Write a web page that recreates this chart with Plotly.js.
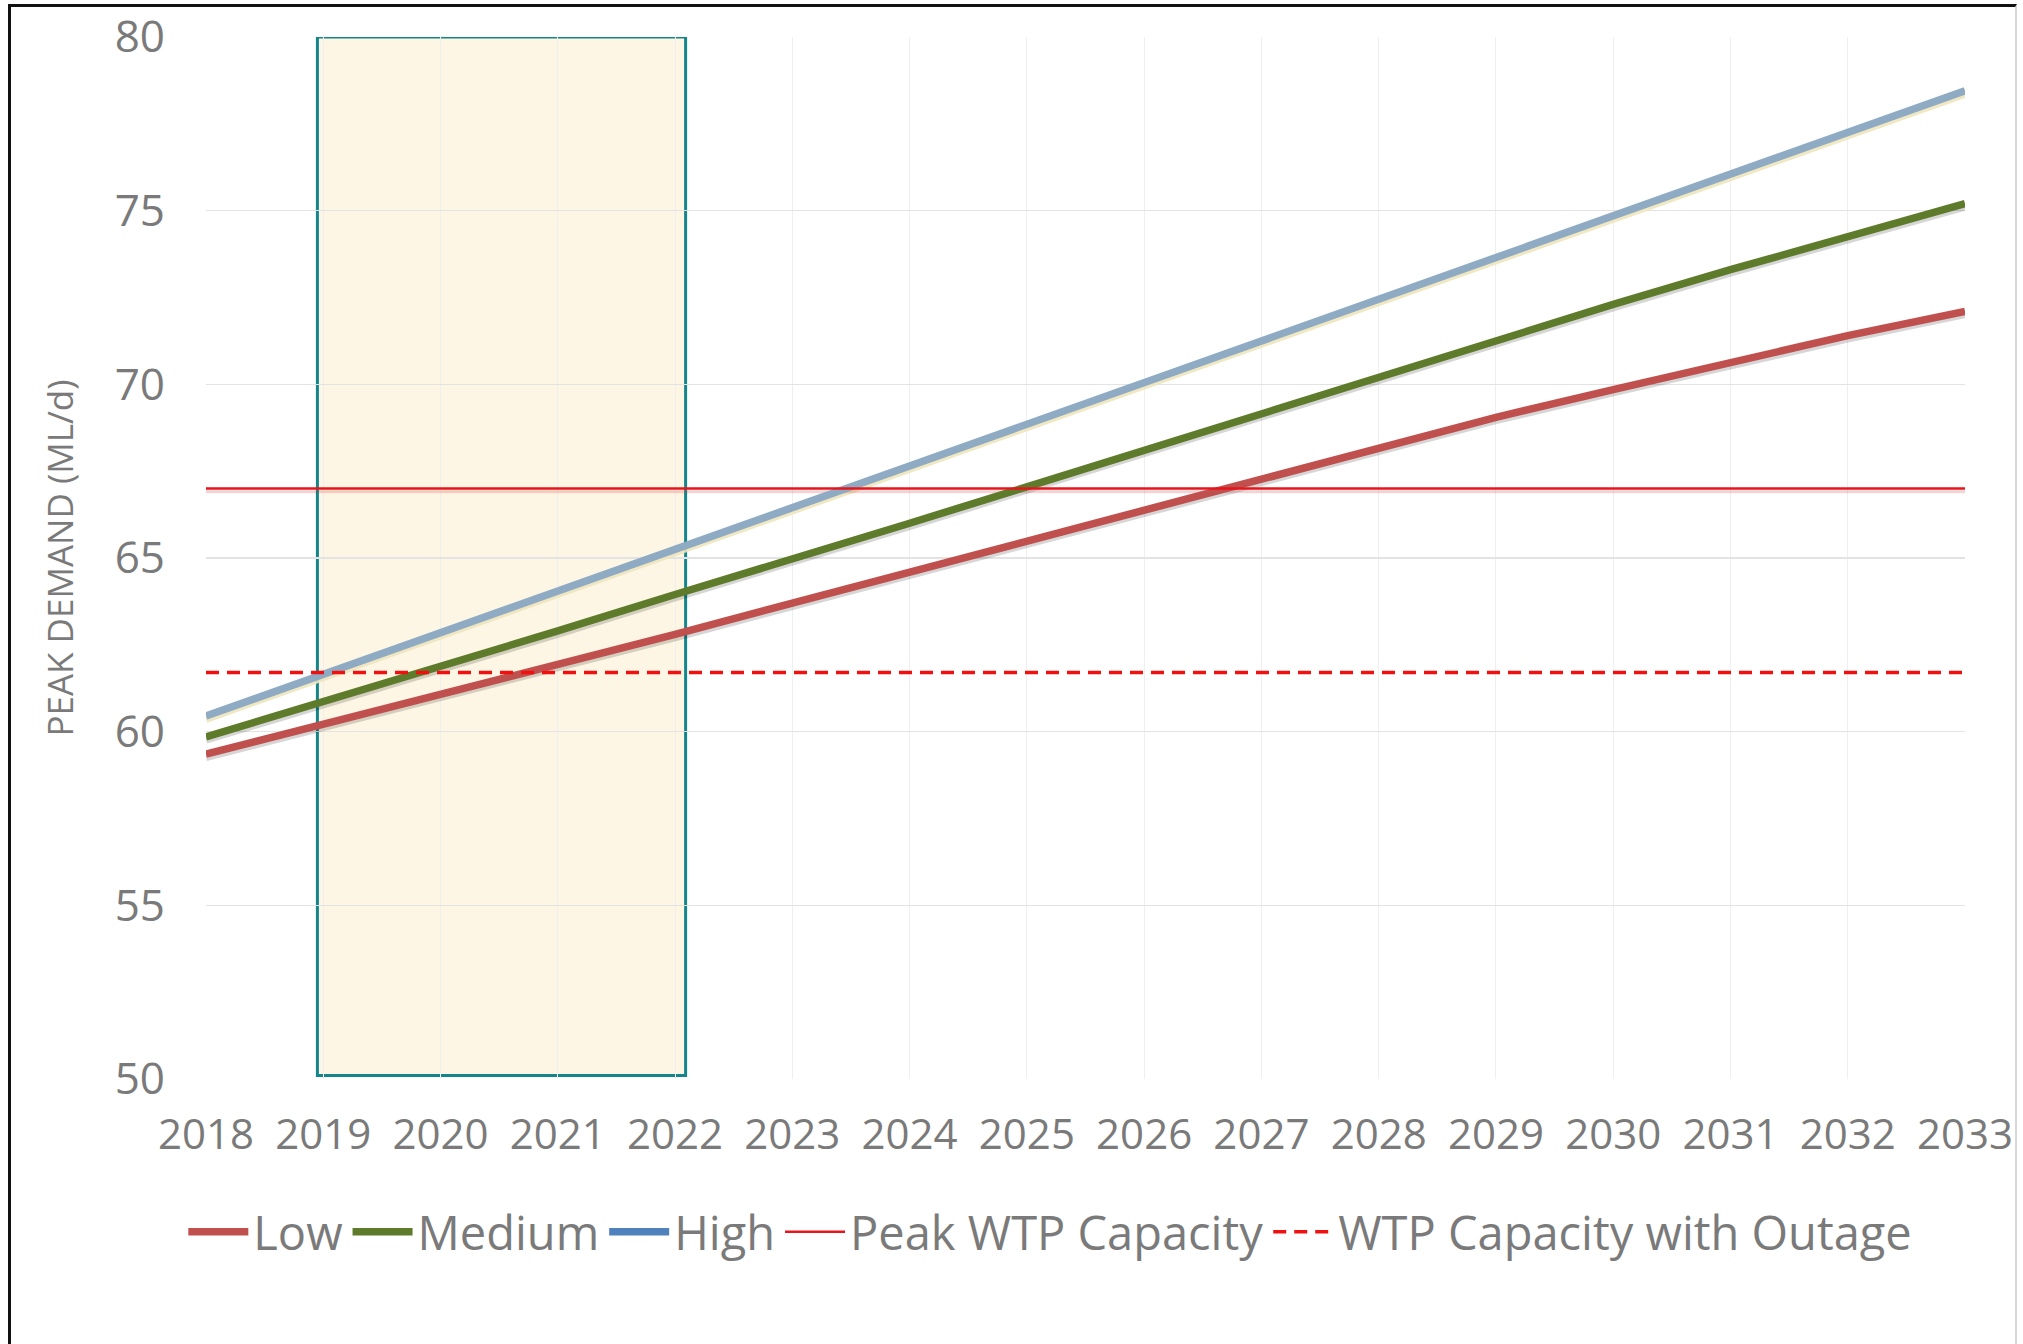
<!DOCTYPE html>
<html>
<head>
<meta charset="utf-8">
<script src="https://cdn.plot.ly/plotly-3.0.1.min.js"></script>
<style>
  html, body { margin: 0; padding: 0; background: #fff; }
  #frame { position: absolute; left: 8px; top: 4px; width: 2009px; height: 1400px;
           border-left: 3px solid #111; border-top: 3px solid #111; border-right: 2px solid #d8d8d8; box-sizing: border-box; }
  #chart { position: absolute; left: 0; top: 0; width: 2023px; height: 1344px; }
</style>
</head>
<body>
<div id="frame"></div>
<div id="chart"></div>
<script>
const years = [2018,2019,2020,2021,2022,2023,2024,2025,2026,2027,2028,2029,2030,2031,2032,2033];
const lowDemand    = [59.35,60.2,61.05,61.9,62.8,63.7,64.6,65.5,66.4,67.3,68.2,69.05,69.85,70.65,71.4,72.1];
const mediumDemand = [59.85,60.85,61.85,62.9,63.95,64.95,66.0,67.05,68.1,69.2,70.25,71.3,72.3,73.3,74.25,75.2];
const highDemand   = [60.45,61.65,62.85,64.05,65.2,66.4,67.6,68.8,70.0,71.2,72.4,73.6,74.8,76.05,77.25,78.45];
const peakCapacity = [67,67,67,67,67,67,67,67,67,67,67,67,67,67,67,67];
const outageCapacity = [61.7,61.7,61.7,61.7,61.7,61.7,61.7,61.7,61.7,61.7,61.7,61.7,61.7,61.7,61.7,61.7];
const highlightYears = [2018.95, 2022.09];
const highlightRange = [50.1, 80];

const FONT = '"Open Sans", sans-serif';
const GREY = '#7a7a7a';

function shadow(y, color, w) {
  return {x: years, y: y, yaxis: 'y2', mode: 'lines', showlegend: false, hoverinfo: 'skip',
          line: {color: color, width: w}};
}

const traces = [
  shadow(highDemand, 'rgba(238,228,188,0.9)', 7.5),
  shadow(mediumDemand, 'rgba(0,0,0,0.16)', 7.5),
  shadow(lowDemand, 'rgba(0,0,0,0.16)', 7.5),
  shadow(peakCapacity, 'rgba(200,60,60,0.22)', 3),
  {x: years, y: lowDemand, yaxis: 'y3', name: 'Low', mode: 'lines', line: {color: '#C0504D', width: 7.5}},
  {x: years, y: mediumDemand, yaxis: 'y3', name: 'Medium', mode: 'lines', line: {color: '#5E7B2B', width: 7.5}},
  {x: years, y: highDemand, yaxis: 'y3', name: 'High', mode: 'lines', showlegend: false, line: {color: '#8FABC3', width: 7.5}},
  {x: years, y: highDemand.map(() => null), yaxis: 'y3', name: 'High', mode: 'lines', line: {color: '#4F81BD', width: 7.5}},
  {x: years, y: peakCapacity, yaxis: 'y3', name: 'Peak WTP Capacity', mode: 'lines', line: {color: '#E8141B', width: 2.5}},
  {x: years, y: outageCapacity, yaxis: 'y3', name: 'WTP Capacity with Outage', mode: 'lines', line: {color: '#F01010', width: 3.5, dash: '13px,8px'}}
];

const layout = {
  width: 2023, height: 1344,
  paper_bgcolor: 'rgba(0,0,0,0)', plot_bgcolor: '#ffffff',
  margin: {l: 206, r: 58, t: 37, b: 265},
  font: {family: FONT, color: GREY, size: 42},
  showlegend: true,
  legend: {orientation: 'h', x: 0.48, xanchor: 'center', y: -0.147, yanchor: 'middle',
           font: {family: FONT, size: 47, color: GREY}, itemwidth: 60, tracegroupgap: 0},
  xaxis: {range: [2018, 2033], dtick: 1, tick0: 2018, showgrid: true, gridcolor: '#efefef', gridwidth: 1,
          zeroline: false, showline: false, ticks: '', ticklabelstandoff: 27,
          tickfont: {family: FONT, size: 42, color: GREY}},
  yaxis: {range: [50, 80], dtick: 5, showgrid: true, gridcolor: '#e3e3e3', gridwidth: 1.5,
          zeroline: false, showline: false, ticks: '', ticklabelstandoff: 40,
          tickfont: {family: FONT, size: 44, color: GREY},
          title: {text: 'PEAK DEMAND (ML/d)', font: {family: FONT, size: 35, color: GREY}, standoff: 30}},
  yaxis2: {range: [50.09, 80.09], overlaying: 'y', visible: false, showgrid: false},
  yaxis3: {range: [50, 80], overlaying: 'y', visible: false, showgrid: false},
  shapes: [{type: 'rect', xref: 'x', yref: 'y', layer: 'below',
            x0: highlightYears[0], x1: highlightYears[1], y0: highlightRange[0], y1: highlightRange[1],
            fillcolor: '#FDF6E4', line: {color: '#14858A', width: 3}}]
};

Plotly.newPlot('chart', traces, layout, {displayModeBar: false, staticPlot: true});
</script>
</body>
</html>
